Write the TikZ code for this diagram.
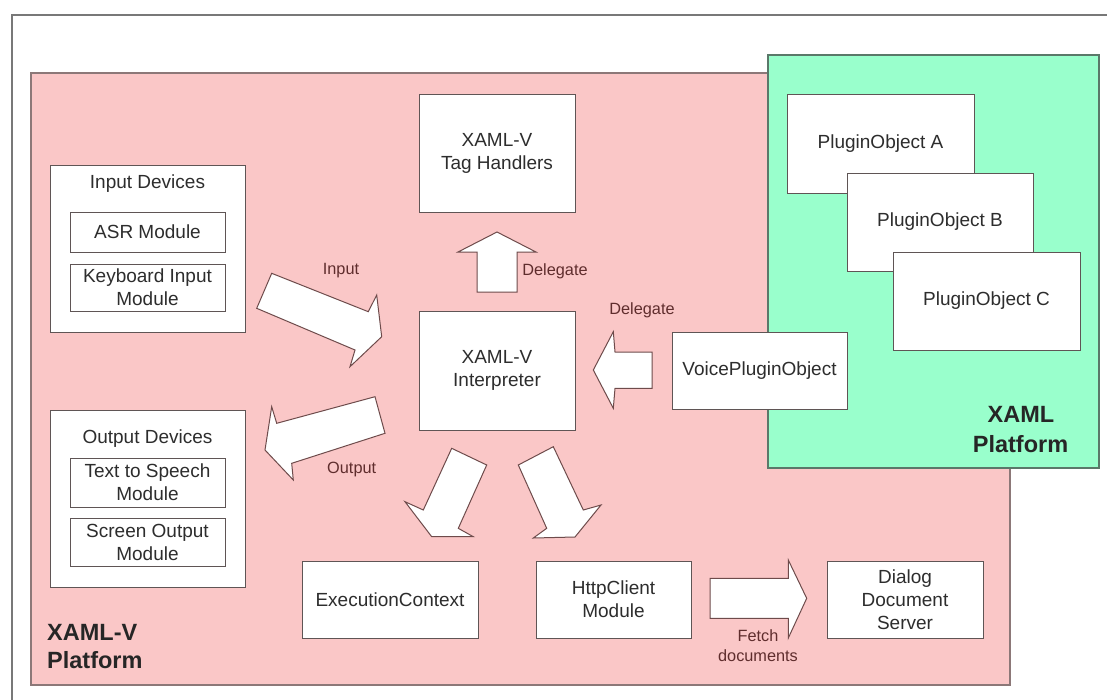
\documentclass[tikz,border=0pt]{standalone}
\usepackage{fontspec}
\setmainfont{Liberation Sans}
\definecolor{pinkbg}{RGB}{250,199,199}
\definecolor{greenbg}{RGB}{153,255,204}
\definecolor{frameg}{RGB}{120,120,120}
\definecolor{pinkline}{RGB}{140,120,120}
\definecolor{greenline}{RGB}{90,120,105}
\definecolor{boxline}{RGB}{95,85,85}
\definecolor{txt}{RGB}{45,45,45}
\definecolor{lbl}{RGB}{95,45,45}
\definecolor{arrline}{RGB}{110,75,75}
\tikzset{
  box/.style={draw=boxline, fill=white, line width=1pt, align=center, inner sep=0pt,
    text=txt, font=\fontsize{19}{23}\selectfont},
  title/.style={text=txt, font=\fontsize{19}{23}\selectfont, inner sep=0pt},
  lab/.style={text=lbl, font=\fontsize{16.3}{20.5}\selectfont, align=center, inner sep=0pt},
  plat/.style={text=black!85, font=\bfseries\fontsize{23.5}{29}\selectfont, inner sep=0pt},
  blockarrow/.style={draw=arrline, fill=white, line width=1pt, line join=miter},
}
\begin{document}
\begin{tikzpicture}[x=1pt,y=-1pt]
\useasboundingbox (0,0) rectangle (1107,699);
\fill[white] (0,0) rectangle (1107,699);
% outer frame
\draw[frameg, line width=1.2pt] (12,720) -- (12,15) -- (1120,15);
% platforms
\draw[pinkline, fill=pinkbg, line width=1.2pt] (31,73) rectangle (1010,685);
\draw[greenline, fill=greenbg, line width=1.2pt] (768,55) rectangle (1099,468);
% input devices
\node[box, minimum width=195pt, minimum height=167pt] (indev) at (147.5,248.5) {};
\node[title] (indevt) at (147.5,184) {Input Devices};
\node[box, minimum width=155pt, minimum height=40pt] (asr) at (147.5,232) {ASR Module};
\node[box, minimum width=155pt, minimum height=47pt] (kbd) at (147.5,287.5) {Keyboard Input\\Module};
% output devices
\node[box, minimum width=195pt, minimum height=177pt] (outdev) at (147.5,498.5) {};
\node[title] (outdevt) at (147.5,439) {Output Devices};
\node[box, minimum width=155pt, minimum height=49pt] (tts) at (147.5,482.5) {Text to Speech\\Module};
\node[box, minimum width=155pt, minimum height=48pt] (scr) at (147.5,542) {Screen Output\\Module};
% centre
\node[box, minimum width=156pt, minimum height=118pt] (tag) at (497,153) {XAML-V\\Tag Handlers};
\node[box, minimum width=156pt, minimum height=119pt] (interp) at (497,370.5) {XAML-V\\Interpreter};
\node[box, minimum width=176pt, minimum height=77pt] (exec) at (390,599.5) {ExecutionContext};
\node[box, minimum width=155pt, minimum height=77pt] (http) at (613.5,599.5) {HttpClient\\Module};
\node[box, minimum width=156pt, minimum height=77pt] (dialog) at (905,599.5) {Dialog\\Document\\Server};
% plugins
\node[box, minimum width=187pt, minimum height=99pt] (pa) at (880.5,143.5) {PluginObject A};
\node[box, minimum width=186pt, minimum height=98pt] (pb) at (940,222) {PluginObject B};
\node[box, minimum width=187pt, minimum height=98pt] (pc) at (986.5,301) {PluginObject C};
\node[box, minimum width=175pt, minimum height=77pt] (voice) at (759.5,370.5) {VoicePluginObject};
% block arrows
% input
\draw[blockarrow] (271.7,273.3) -- (368.3,311.7) -- (376.7,295) -- (381.7,336.7) -- (350,366.7) -- (355,350) -- (256.7,308.3) -- cycle;
% output
\draw[blockarrow] (375,396.7) -- (385,433.3) -- (291.7,463.3) -- (293.3,480) -- (265,450) -- (271.7,406.7) -- (276.7,423.3) -- cycle;
% delegate up
\draw[blockarrow] (477,292) -- (477,252) -- (458,252) -- (497,232) -- (536,252) -- (517,252) -- (517,292) -- cycle;
% delegate left
\draw[blockarrow] (652,352) -- (615,352) -- (613.3,331.7) -- (593.3,370) -- (613.3,408.3) -- (615,388.3) -- (652,388.3) -- cycle;
% down-left
\draw[blockarrow] (451.7,448.3) -- (486.7,465) -- (458.3,528.3) -- (473.3,536.7) -- (431.7,536.7) -- (405,501.7) -- (423.3,510) -- cycle;
% down-right
\draw[blockarrow] (518.3,465) -- (553.3,446.7) -- (583.3,510) -- (601,505) -- (575,537) -- (533.3,538) -- (546.7,528.3) -- cycle;
% fetch
\draw[blockarrow] (710,578.3) -- (788.3,578.3) -- (788.3,560) -- (806.7,598.3) -- (788.3,638) -- (788.3,618.3) -- (710,618.3) -- cycle;
% labels
\node[lab] (linput) at (341,271) {Input};
\node[lab] (ldel1) at (555,271) {Delegate};
\node[lab] (ldel2) at (642,310) {Delegate};
\node[lab] (lout) at (351.7,469) {Output};
\node[lab] (lfetch) at (758,645.5) {Fetch\\documents};
\node[plat, anchor=west] (xv1) at (47,632) {XAML-V};
\node[plat, anchor=west] (xv2) at (47,660) {Platform};
\node[plat] (xp1) at (1021,414) {XAML};
\node[plat] (xp2) at (1020.5,444) {Platform};
\end{tikzpicture}
\end{document}
